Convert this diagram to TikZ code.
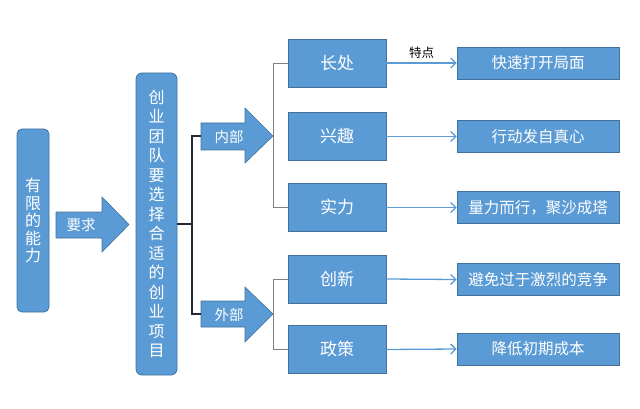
\documentclass[tikz,border=0pt]{standalone}
\usepackage{fontspec}
\setmainfont{Noto Sans CJK SC}
\usetikzlibrary{arrows.meta}
\definecolor{bfill}{HTML}{5B9BD5}
\definecolor{bline}{HTML}{41719C}
\definecolor{darkline}{HTML}{1F2A36}
\definecolor{grayline}{HTML}{808080}
\tikzset{
  rbox/.style={draw=bline, line width=0.8pt, fill=bfill, rounded corners=5pt, inner sep=0pt, text=white, align=center},
  midbox/.style={draw=bline, line width=0.8pt, fill=bfill, inner sep=0pt, minimum width=98pt, minimum height=48pt, text=white, font=\fontsize{17}{20}\selectfont},
  resbox/.style={draw=bline, line width=0.8pt, fill=bfill, inner sep=0pt, minimum width=162pt, minimum height=32pt, text=white, font=\fontsize{15.5}{18}\selectfont},
  blockarrow/.style={fill=bfill, draw=bline, line width=0.6pt},
  arrowlabel/.style={text=white, inner sep=0pt, font=\fontsize{14.5}{17}\selectfont},
  conn/.style={draw=bfill, line width=1.3pt, -{Straight Barb[length=5pt,width=10pt,line width=1.3pt]}},
  bracketdark/.style={draw=darkline, line width=1.4pt},
  bracketgray/.style={draw=grayline, line width=0.8pt},
}
\begin{document}
\begin{tikzpicture}[x=1pt,y=-1pt]
\useasboundingbox (0,0) rectangle (640,409);
% left box
\node[rbox, minimum width=32pt, minimum height=183pt, font=\fontsize{16}{17.5}\selectfont] (limit) at (33,220.5) {有\\限\\的\\能\\力};
% arrow 要求
\fill[blockarrow] (56,212) -- (102,212) -- (102,197) -- (129,224.5) -- (102,252) -- (102,238) -- (56,238) -- cycle;
\node[arrowlabel] (req) at (81,225) {要求};
% middle box
\node[rbox, rounded corners=6pt, minimum width=41pt, minimum height=302pt, font=\fontsize{16}{19.5}\selectfont] (proj) at (156.5,224) {创\\业\\团\\队\\要\\选\\择\\合\\适\\的\\创\\业\\项\\目};
% arrow 内部
\fill[blockarrow] (201,123) -- (245,123) -- (245,108) -- (273,136) -- (245,163) -- (245,150) -- (201,150) -- cycle;
\coordinate (intail) at (201,136);
\coordinate (intip) at (273,136);
\node[arrowlabel] (inner) at (229,137) {内部};
% arrow 外部
\fill[blockarrow] (201,301) -- (245,301) -- (245,287) -- (273,314) -- (245,342) -- (245,327) -- (201,327) -- cycle;
\coordinate (extail) at (201,314);
\coordinate (extip) at (273,314);
\node[arrowlabel] (outer) at (229,315) {外部};
% dark bracket
\draw[bracketdark] (intail) -- ++(-9,0) |- (proj.east);
\draw[bracketdark] (extail) -- ++(-9,0) |- (proj.east);
% middle column
\node[midbox] (cz) at (337,63) {长处};
\node[midbox] (xq) at (337,136.5) {兴趣};
\node[midbox] (sl) at (337,207.5) {实力};
\node[midbox] (cx) at (337,279) {创新};
\node[midbox] (zc) at (337,349.5) {政策};
% gray brackets
\draw[bracketgray] (cz.west) -| (intip);
\draw[bracketgray] (sl.west) -| (intip);
\draw[bracketgray] (cx.west) -| (extip);
\draw[bracketgray] (zc.west) -| (extip);
% right column
\node[resbox] (r1) at (538,63) {快速打开局面};
\node[resbox] (r2) at (538,136.5) {行动发自真心};
\node[resbox] (r3) at (538,207.5) {量力而行，聚沙成塔};
\node[resbox] (r4) at (538,279.5) {避免过于激烈的竞争};
\node[resbox] (r5) at (538,349) {降低初期成本};
% connectors
\draw[conn] (cz.east) -- node[above, inner sep=4pt, text=black, font=\fontsize{12.5}{14}\selectfont] (tedian) {特点} (r1.west);
\draw[conn] (xq.east) -- (r2.west);
\draw[conn] (sl.east) -- (r3.west);
\draw[conn] (cx.east) -- (r4.west);
\draw[conn] (zc.east) -- (r5.west);
\end{tikzpicture}
\end{document}
